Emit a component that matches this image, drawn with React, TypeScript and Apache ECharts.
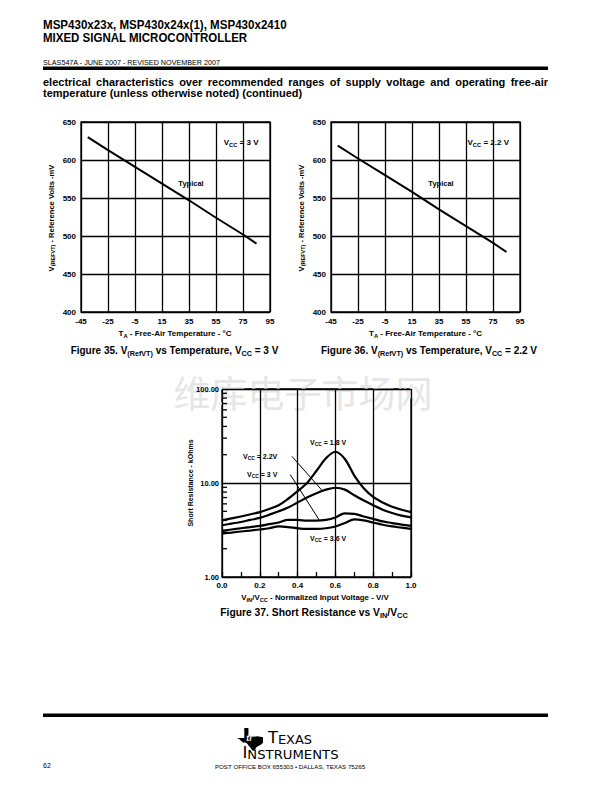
import React, { useEffect, useRef } from 'react';
import * as echarts from 'echarts';

// ---------- data ----------
const tempTicks = [-45, -25, -5, 15, 35, 55, 75, 95];
const vrefTicks = [400, 450, 500, 550, 600, 650];

const fig35Temps = [-40, -25, -5, 15, 35, 55, 75, 85];
const fig35Vref = [630, 613, 591, 569, 547, 524, 502, 490];

const fig36Temps = [-40, -25, -5, 15, 35, 55, 75, 85];
const fig36Vref = [619, 602, 580, 558, 535, 513, 491, 479];

const ratio = [0, 0.05, 0.1, 0.15, 0.2, 0.25, 0.3, 0.35, 0.4, 0.45, 0.5, 0.55, 0.6, 0.65, 0.7, 0.75, 0.8, 0.85, 0.9, 0.95, 1.0];
const res18 = [4.0, 4.2, 4.4, 4.65, 4.9, 5.3, 5.8, 6.8, 8.2, 10.0, 13.5, 18.3, 21.5, 18.0, 12.0, 8.8, 7.1, 6.2, 5.6, 5.2, 4.9];
const res22 = [3.55, 3.7, 3.85, 4.05, 4.25, 4.6, 5.0, 5.5, 6.2, 7.0, 7.8, 8.5, 8.9, 8.5, 7.4, 6.5, 5.8, 5.2, 4.8, 4.5, 4.3];
const res30 = [3.1, 3.2, 3.3, 3.4, 3.5, 3.65, 3.8, 4.05, 4.05, 3.97, 3.97, 4.05, 4.3, 4.75, 4.7, 4.4, 4.15, 3.9, 3.75, 3.6, 3.5];
const res36 = [2.9, 2.97, 3.05, 3.12, 3.2, 3.3, 3.45, 3.4, 3.3, 3.25, 3.25, 3.3, 3.45, 3.75, 4.1, 4.0, 3.8, 3.6, 3.45, 3.35, 3.25];
const resTicks = [1, 10, 100];
const resMinor = [2, 3, 4, 5, 6, 7, 8, 9, 20, 30, 40, 50, 60, 70, 80, 90];

// leader lines [from, to] in data space
const lead22 = [[0.37, 19.2], [0.528, 8.4]];
const lead30 = [[0.361, 12.3], [0.516, 4.0]];

// ---------- styling helpers ----------
const F = '"Liberation Sans", Arial, Helvetica, sans-serif';

const TI_PATH =
  'M28 0 L44 0 L44 33 L62 38 L78 36 L100 40 L100 62 L96 70 L86 76 L74 84 L68 100 L58 97 L52 86 L44 76 L40 68 L30 62 L24 64 L16 56 L8 48 L0 44 L28 44 Z';
let registered = false;
function registerLogo() {
  if (registered) return;
  registered = true;
  echarts.graphic.registerShape('tiLogo', echarts.graphic.extendPath(TI_PATH, {}) as any);
}

function richFor(fs: number, font: string) {
  return {
    n: { fontSize: fs, fontWeight: 'bold', fontFamily: font, fill: '#000', lineHeight: Math.round(fs * 1.35), verticalAlign: 'middle' },
    s: { fontSize: Math.round(fs * 0.72 * 10) / 10, fontWeight: 'bold', fontFamily: font, fill: '#000', lineHeight: Math.round(fs * 0.8), verticalAlign: 'bottom' },
  };
}

function mk(parts: string[]) {
  return parts.map((p) => (p.startsWith('_') ? `{s|${p.slice(1)}}` : `{n|${p}}`)).join('');
}

function txt(x: number, y: number, parts: string[], fs: number, opts: any = {}) {
  const font = opts.font || F;
  return {
    type: 'text',
    x,
    y,
    rotation: opts.rot || 0,
    scaleX: opts.sx || 1,
    z: opts.z ?? 10,
    style: {
      text: mk(parts),
      rich: richFor(fs, font),
      align: opts.align || 'left',
      verticalAlign: 'middle',
      fontSize: fs,
      fontWeight: 'bold',
      fontFamily: font,
      fill: opts.fill || '#000',
    },
  };
}

// justified single line: words placed so that the line spans [x0, x1]
function justified(x0: number, x1: number, y: number, line: string, fs: number) {
  const words = line.split(' ');
  const ctx = document.createElement('canvas').getContext('2d') as CanvasRenderingContext2D;
  ctx.font = `bold ${fs}px ${F}`;
  const widths = words.map((w) => ctx.measureText(w).width);
  const total = widths.reduce((a, b) => a + b, 0);
  const gap = (x1 - x0 - total) / (words.length - 1);
  let x = x0;
  return words.map((w, i) => {
    const el = {
      type: 'text', x, y, z: 10,
      style: { text: w, fontSize: fs, fontWeight: 'bold', fontFamily: F, fill: '#000', align: 'left', verticalAlign: 'middle' },
    };
    x += widths[i] + gap;
    return el;
  });
}

const TMIN = tempTicks[0];
const TMAX = tempTicks[tempTicks.length - 1];
const VMIN = vrefTicks[0];
const VMAX = vrefTicks[vrefTicks.length - 1];

const axisLbl = (fs: number, extra: any = {}) => ({
  fontSize: fs,
  fontWeight: 'bold',
  fontFamily: F,
  color: '#000000',
  textBorderWidth: 0,
  rich: { k: { fontSize: fs, fontWeight: 'bold', fontFamily: F, color: '#000000' } },
  ...extra,
});
const gridLine = { show: true, lineStyle: { color: '#000', width: 1.3, type: 'solid' } };

function buildOption() {
  const tempX = (gi: number) => ({
    gridIndex: gi,
    type: 'value',
    min: 0,
    max: TMAX - TMIN,
    interval: tempTicks[1] - tempTicks[0],
    axisLine: { show: false },
    axisTick: { show: false },
    splitLine: gridLine,
    axisLabel: axisLbl(8, { margin: 5, formatter: (v: number) => String(v + TMIN) }),
  });
  const vrefY = (gi: number) => ({
    gridIndex: gi,
    type: 'value',
    min: VMIN,
    max: VMAX,
    interval: vrefTicks[1] - vrefTicks[0],
    axisLine: { show: false },
    axisTick: { show: false },
    splitLine: gridLine,
    axisLabel: axisLbl(8, { margin: 5 }),
  });

  const curve = (data: number[]) => ({
    type: 'line',
    xAxisIndex: 2,
    yAxisIndex: 2,
    data: ratio.map((r, i) => [r, data[i]]),
    showSymbol: false,
    smooth: 0.35,
    color: '#000',
    lineStyle: { color: '#000', width: 2.2 },
    z: 3,
  });

  const TIF = '"DejaVu Sans", sans-serif';
  const tiRich = {
    b: { fontSize: 15, fontFamily: TIF, fill: '#000', verticalAlign: 'bottom' },
    m: { fontSize: 12, fontFamily: TIF, fill: '#000', verticalAlign: 'bottom' },
  };

  const graphic: any[] = [
    // watermark
    {
      type: 'text',
      x: 303,
      y: 392,
      z: 0,
      style: {
        text: '维库电子市场网',
        fontSize: 37,
        fontFamily: '"Noto Sans CJK SC", sans-serif',
        fontWeight: 'normal',
        fill: '#e6e6e6',
        align: 'center',
        verticalAlign: 'middle',
        letterSpacing: 1,
      },
    },
    // header
    txt(43, 25, ['MSP430x23x, MSP430x24x(1), MSP430x2410'], 13, { sx: 0.89 }),
    txt(43, 37.5, ['MIXED SIGNAL MICROCONTROLLER'], 13, { sx: 0.885 }),
    {
      type: 'text', x: 43, y: 62, z: 10,
      style: { text: 'SLAS547A - JUNE 2007 - REVISED NOVEMBER 2007', fontSize: 7.2, fontFamily: F, fill: '#000', align: 'left', verticalAlign: 'middle' },
    },
    { type: 'rect', z: 10, shape: { x: 43, y: 66.5, width: 505, height: 3.5 }, style: { fill: '#000' } },
    ...justified(43, 548, 81.5, 'electrical characteristics over recommended ranges of supply voltage and operating free-air', 11),
    txt(43, 93, ['temperature (unless otherwise noted) (continued)'], 11),

    // figure 35
    txt(258.5, 142, ['V', '_CC', ' = 3 V'], 8, { align: 'right' }),
    txt(191, 183, ['Typical'], 7.5, { align: 'center' }),
    txt(51, 218, ['V', '_(REFVT)', ' - Reference Volts -mV'], 7.6, { align: 'center', rot: Math.PI / 2 }),
    txt(175, 333, ['T', '_A', ' - Free-Air Temperature - °C'], 8, { align: 'center' }),
    txt(174.5, 350, ['Figure 35. V', '_(RefVT)', ' vs Temperature, V', '_CC', ' = 3 V'], 10, { align: 'center' }),

    // figure 36
    txt(509, 142, ['V', '_CC', ' = 2.2 V'], 8, { align: 'right' }),
    txt(441, 183, ['Typical'], 7.5, { align: 'center' }),
    txt(301, 218, ['V', '_(REFVT)', ' - Reference Volts -mV'], 7.6, { align: 'center', rot: Math.PI / 2 }),
    txt(425.5, 333, ['T', '_A', ' - Free-Air Temperature - °C'], 8, { align: 'center' }),
    txt(429, 350, ['Figure 36. V', '_(RefVT)', ' vs Temperature, V', '_CC', ' = 2.2 V'], 10, { align: 'center' }),

    // figure 37
    txt(310, 442, ['V', '_CC', ' = 1.8 V'], 7),
    txt(243, 456, ['V', '_CC', ' = 2.2V'], 7),
    txt(247, 474, ['V', '_CC', ' = 3 V'], 7),
    txt(310, 538, ['V', '_CC', ' = 3.6 V'], 7),
    txt(190, 483, ['Short Resistance - kOhms'], 7, { align: 'center', rot: Math.PI / 2 }),
    txt(315, 597, ['V', '_IN', '/V', '_CC', ' - Normalized Input Voltage - V/V'], 7.9, { align: 'center' }),
    txt(314, 612, ['Figure 37. Short Resistance vs V', '_IN', '/V', '_CC'], 10.3, { align: 'center' }),

    // footer
    { type: 'rect', z: 10, shape: { x: 43, y: 713.5, width: 505, height: 3.5 }, style: { fill: '#000' } },
    { type: 'tiLogo', x: 237, y: 728, scaleX: 0.26, scaleY: 0.23, z: 10, style: { fill: '#000' } },
    {
      type: 'text', x: 249, y: 738, z: 11,
      style: { text: 'ti', fontSize: 9, fontStyle: 'italic', fontWeight: 'bold', fontFamily: F, fill: '#fff', align: 'center', verticalAlign: 'middle' },
    },
    {
      type: 'text', x: 290, y: 738, z: 10, scaleX: 1.08,
      style: { text: '{b|T}{m|EXAS}', align: 'center', verticalAlign: 'middle', rich: tiRich },
    },
    {
      type: 'text', x: 290.5, y: 753, z: 10, scaleX: 1.1,
      style: { text: '{b|I}{m|NSTRUMENTS}', align: 'center', verticalAlign: 'middle', rich: tiRich },
    },
    {
      type: 'text', x: 43, y: 765, z: 10,
      style: { text: '62', fontSize: 7, fontFamily: F, fill: '#000', align: 'left', verticalAlign: 'middle' },
    },
    {
      type: 'text', x: 290, y: 766.5, z: 10,
      style: { text: 'POST OFFICE BOX 655303 • DALLAS, TEXAS 75265', fontSize: 6.2, fontFamily: F, fill: '#000', align: 'center', verticalAlign: 'middle' },
    },
  ];

  const fmtRatio = (v: number) => `{k|${v.toFixed(1)}}`;
  const fmtRes = (v: number) => `{k|${v.toFixed(2)}}`;

  return {
    animation: false,
    backgroundColor: '#fff',
    color: ['#000'],
    textStyle: { color: '#000', fontFamily: F },
    grid: [
      { left: 81, top: 122, width: 189, height: 190, show: true, borderColor: '#000', borderWidth: 1.3, backgroundColor: 'transparent', containLabel: false },
      { left: 331, top: 122, width: 189, height: 190, show: true, borderColor: '#000', borderWidth: 1.3, backgroundColor: 'transparent', containLabel: false },
      { left: 222, top: 389, width: 189, height: 188, show: true, borderColor: '#000', borderWidth: 1.3, backgroundColor: 'transparent', containLabel: false },
    ],
    xAxis: [
      tempX(0),
      tempX(1),
      {
        gridIndex: 2,
        type: 'value',
        min: 0,
        max: 1,
        interval: 0.2,
        axisLine: { show: false, lineStyle: { color: '#000' } },
        axisTick: { show: true, inside: true, length: 5, lineStyle: { color: '#000', width: 1.3 } },
        minorTick: { show: true, splitNumber: 2, length: 5, lineStyle: { color: '#000', width: 1.3 } },
        splitLine: gridLine,
        axisLabel: axisLbl(8, { margin: 4, formatter: fmtRatio }),
      },
    ],
    yAxis: [
      vrefY(0),
      vrefY(1),
      {
        gridIndex: 2,
        type: 'log',
        logBase: 10,
        min: resTicks[0],
        max: resTicks[resTicks.length - 1],
        axisLine: { show: false, lineStyle: { color: '#000' } },
        axisTick: { show: false },
        splitLine: gridLine,
        axisLabel: axisLbl(7.5, { margin: 3, formatter: fmtRes }),
      },
    ],
    series: [
      {
        type: 'line', xAxisIndex: 0, yAxisIndex: 0,
        data: fig35Temps.map((t, i) => [t - TMIN, fig35Vref[i]]),
        showSymbol: false, color: '#000', lineStyle: { color: '#000', width: 2 }, z: 3,
      },
      {
        type: 'line', xAxisIndex: 1, yAxisIndex: 1,
        data: fig36Temps.map((t, i) => [t - TMIN, fig36Vref[i]]),
        showSymbol: false, color: '#000', lineStyle: { color: '#000', width: 2 }, z: 3,
      },
      curve(res18),
      {
        ...curve(res22),
        markLine: {
          silent: true,
          symbol: ['none', 'none'],
          label: { show: false },
          lineStyle: { color: '#000', width: 1, type: 'solid' },
          data: [
            [{ coord: lead22[0] }, { coord: lead22[1] }],
            [{ coord: lead30[0] }, { coord: lead30[1] }],
          ],
        },
      },
      curve(res30),
      curve(res36),
      {
        type: 'custom',
        xAxisIndex: 2,
        yAxisIndex: 2,
        silent: true,
        z: 4,
        data: resMinor.map((v) => [0, v]),
        renderItem: (_p: any, api: any) => {
          const p = api.coord([api.value(0), api.value(1)]);
          return {
            type: 'line',
            shape: { x1: p[0], y1: p[1], x2: p[0] + 5, y2: p[1] },
            style: { stroke: '#000', lineWidth: 1.3 },
          };
        },
      },
    ],
    graphic,
  };
}

export default function App() {
  const ref = useRef<HTMLDivElement>(null);
  useEffect(() => {
    if (!ref.current) return;
    registerLogo();
    const chart = echarts.init(ref.current, undefined, { renderer: 'svg' });
    chart.setOption(buildOption() as any);
    return () => chart.dispose();
  }, []);
  return (
    <div
      ref={ref}
      style={{ position: 'absolute', left: 0, top: 0, width: 612, height: 792, background: '#fff' }}
    />
  );
}
